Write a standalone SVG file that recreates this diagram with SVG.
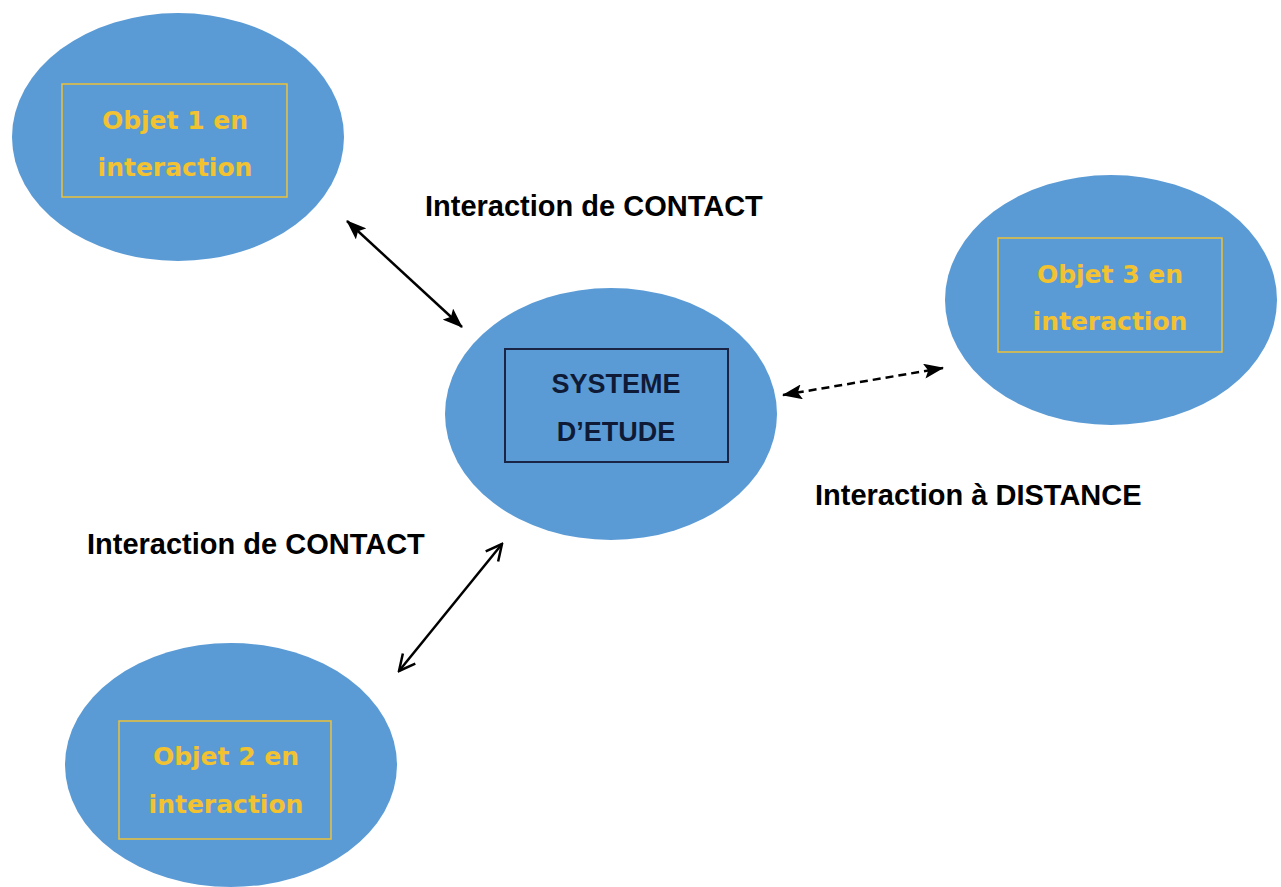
<svg xmlns="http://www.w3.org/2000/svg" width="1281" height="887" viewBox="0 0 1281 887">
<style>
.bubble{fill:#5b9bd5;}
.obox{fill:none;stroke:#ecc23a;stroke-width:1.5;}
.otext{font-family:"DejaVu Sans",sans-serif;font-weight:bold;font-size:25px;fill:#f2c230;text-anchor:middle;}
.stext{font-family:"Liberation Sans",Arial,sans-serif;font-weight:bold;font-size:27px;fill:#0f1b36;text-anchor:middle;}
.label{font-family:"Liberation Sans",Arial,sans-serif;font-weight:bold;font-size:29px;fill:#000;}
.conn{stroke:#000;stroke-width:2.5;fill:none;}
</style>
<defs>
<marker id="headFill" viewBox="0 0 20 15" refX="19" refY="7.5" markerWidth="20" markerHeight="15" markerUnits="userSpaceOnUse" orient="auto-start-reverse">
<path d="M0,0 L20,7.5 L0,15 L4,7.5 z" fill="#000"/>
</marker>
<marker id="headOpen" viewBox="0 0 20 20" refX="18" refY="10" markerWidth="20" markerHeight="20" markerUnits="userSpaceOnUse" orient="auto-start-reverse">
<path d="M2,2 L18,10 L2,18" fill="none" stroke="#000" stroke-width="2.5"/>
</marker>
</defs>
<rect width="1281" height="887" fill="#fff"/>

<g id="connectors">
<line class="conn" x1="347" y1="221" x2="462" y2="327" marker-start="url(#headFill)" marker-end="url(#headFill)"/>
<line class="conn" x1="502" y1="544" x2="399" y2="671" marker-start="url(#headOpen)" marker-end="url(#headOpen)"/>
<line class="conn" x1="783" y1="395" x2="943" y2="368" stroke-dasharray="8,5" stroke-width="2.2" marker-start="url(#headFill)" marker-end="url(#headFill)"/>
</g>

<g id="objet1">
<ellipse class="bubble" cx="178" cy="137" rx="166" ry="124"/>
<rect class="obox" x="62" y="84" width="225" height="113"/>
<text class="otext" x="175" y="129">Objet 1 en</text>
<text class="otext" x="175" y="176">interaction</text>
</g>

<g id="systeme">
<ellipse class="bubble" cx="611" cy="414" rx="166" ry="126"/>
<rect x="505" y="349" width="223" height="113" fill="none" stroke="#1a2545" stroke-width="2"/>
<text class="stext" x="616" y="393">SYSTEME</text>
<text class="stext" x="616" y="441">D’ETUDE</text>
</g>

<g id="objet3">
<ellipse class="bubble" cx="1111" cy="300" rx="166" ry="125"/>
<rect class="obox" x="998" y="238" width="224" height="114"/>
<text class="otext" x="1110" y="283">Objet 3 en</text>
<text class="otext" x="1110" y="330">interaction</text>
</g>

<g id="objet2">
<ellipse class="bubble" cx="231" cy="765" rx="166" ry="122"/>
<rect class="obox" x="119" y="721" width="212" height="118"/>
<text class="otext" x="226" y="765">Objet 2 en</text>
<text class="otext" x="226" y="813">interaction</text>
</g>

<g id="labels">
<text class="label" x="425" y="216">Interaction de CONTACT</text>
<text class="label" x="87" y="554">Interaction de CONTACT</text>
<text class="label" x="815" y="505">Interaction à DISTANCE</text>
</g>
</svg>
